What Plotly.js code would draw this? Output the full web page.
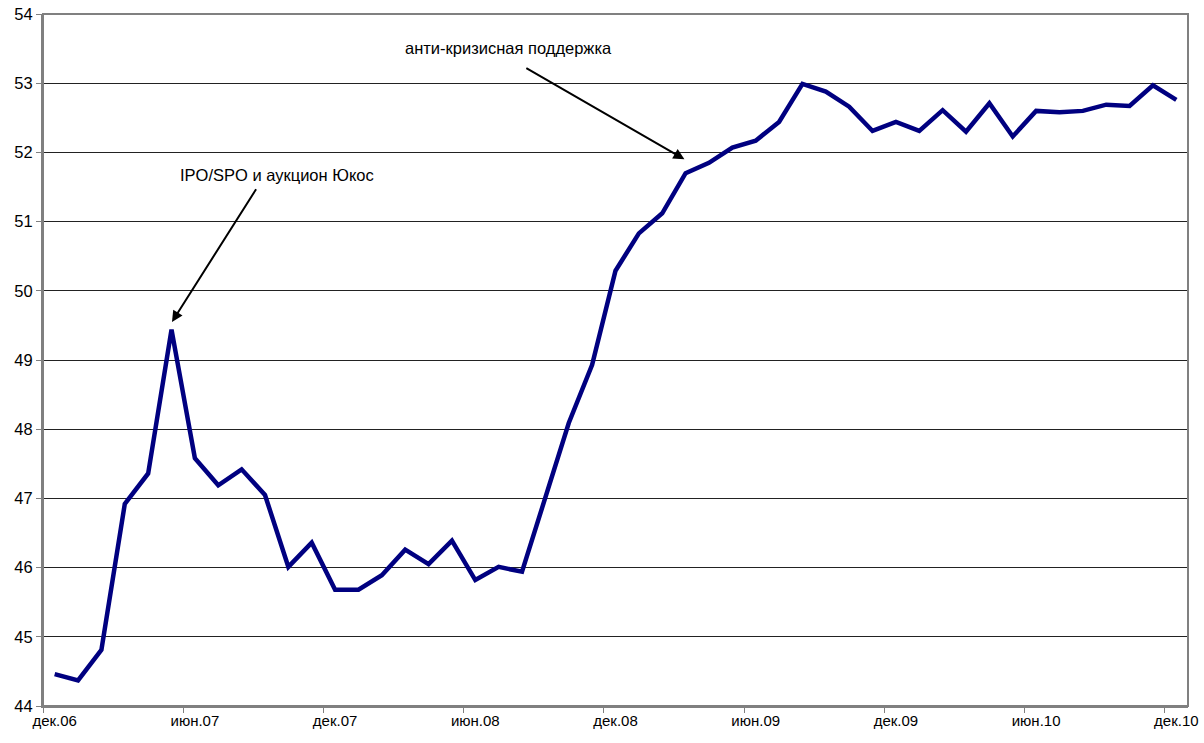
<!DOCTYPE html>
<html>
<head>
<meta charset="utf-8">
<script src="https://cdn.plot.ly/plotly-3.0.1.min.js"></script>
<style>html,body{margin:0;padding:0;background:#fff;}#chart{width:1204px;height:743px;}</style>
</head>
<body>
<div id="chart"></div>
<script>
// Monthly values, дек.06 .. дек.10 (49 months)
const values = [
  44.46, 44.37, 44.81, 46.92, 47.36, 49.44, 47.58, 47.19, 47.42, 47.05,
  46.01, 46.36, 45.68, 45.68, 45.89, 46.26, 46.05, 46.39, 45.82, 46.01,
  45.94, 47.00, 48.09, 48.93, 50.29, 50.83, 51.12, 51.70, 51.85, 52.07,
  52.17, 52.44, 52.99, 52.88, 52.66, 52.31, 52.44, 52.31, 52.61, 52.30,
  52.71, 52.23, 52.60, 52.58, 52.60, 52.69, 52.67, 52.97, 52.76
];
const monthIndex = values.map((v, i) => i);
const tickLabels = ['дек.06','июн.07','дек.07','июн.08','дек.08','июн.09','дек.09','июн.10','дек.10'];
const tickPositions = tickLabels.map((t, i) => i * 6);
const yTicks = [44, 45, 46, 47, 48, 49, 50, 51, 52, 53, 54];
const notes = ['IPO/SPO и аукцион Юкос', 'анти-кризисная поддержка'];

const font = 'Liberation Sans, Arial, sans-serif';

const trace = {
  x: monthIndex,
  y: values,
  type: 'scatter',
  mode: 'lines',
  line: {color: '#000080', width: 4.5},
  hoverinfo: 'skip'
};

const layout = {
  width: 1204, height: 743,
  margin: {l: 43, r: 16, t: 14, b: 37},
  paper_bgcolor: '#fff', plot_bgcolor: '#fff',
  showlegend: false,
  xaxis: {
    range: [-0.5, values.length - 0.5],
    tickmode: 'array', tickvals: tickPositions, ticktext: tickLabels,
    ticks: '', showgrid: false, zeroline: false,
    showline: true, linecolor: '#808080', linewidth: 2,
    tickfont: {family: font, size: 15, color: '#000'},
    minor: {tickmode: 'linear', tick0: -0.5, dtick: 6, ticks: 'outside', ticklen: 5, tickcolor: '#808080', tickwidth: 1, showgrid: false},
    fixedrange: true
  },
  yaxis: {
    range: [44, 54],
    tickmode: 'array', tickvals: yTicks,
    ticks: 'outside', ticklen: 5, tickcolor: '#808080', tickwidth: 1,
    showgrid: true, gridcolor: '#222', gridwidth: 1, zeroline: false,
    showline: true, linecolor: '#808080', linewidth: 2,
    tickfont: {family: font, size: 16.5, color: '#000'},
    fixedrange: true
  },
  shapes: [
    {type: 'rect', xref: 'paper', yref: 'paper', x0: 0, x1: 1, y0: 0, y1: 1, line: {color: '#808080', width: 2}}
  ],
  annotations: [
    {text: notes[0], xref: 'x', yref: 'y', x: 9.5, y: 51.67, showarrow: false,
     font: {family: font, size: 16.5, color: '#000'}},
    {xref: 'x', yref: 'y', x: 5.02, y: 49.55, axref: 'x', ayref: 'y', ax: 8.66, ay: 51.49,
     text: '', showarrow: true, arrowhead: 2, arrowsize: 1.1, arrowwidth: 2, arrowcolor: '#000'},
    {text: notes[1], xref: 'x', yref: 'y', x: 19.4, y: 53.51, showarrow: false,
     font: {family: font, size: 16.5, color: '#000'}},
    {xref: 'x', yref: 'y', x: 26.95, y: 51.9, axref: 'x', ayref: 'y', ax: 20.12, ay: 53.23,
     text: '', showarrow: true, arrowhead: 2, arrowsize: 1.1, arrowwidth: 2, arrowcolor: '#000'}
  ]
};

Plotly.newPlot('chart', [trace], layout, {displayModeBar: false, staticPlot: true});
</script>
</body>
</html>
